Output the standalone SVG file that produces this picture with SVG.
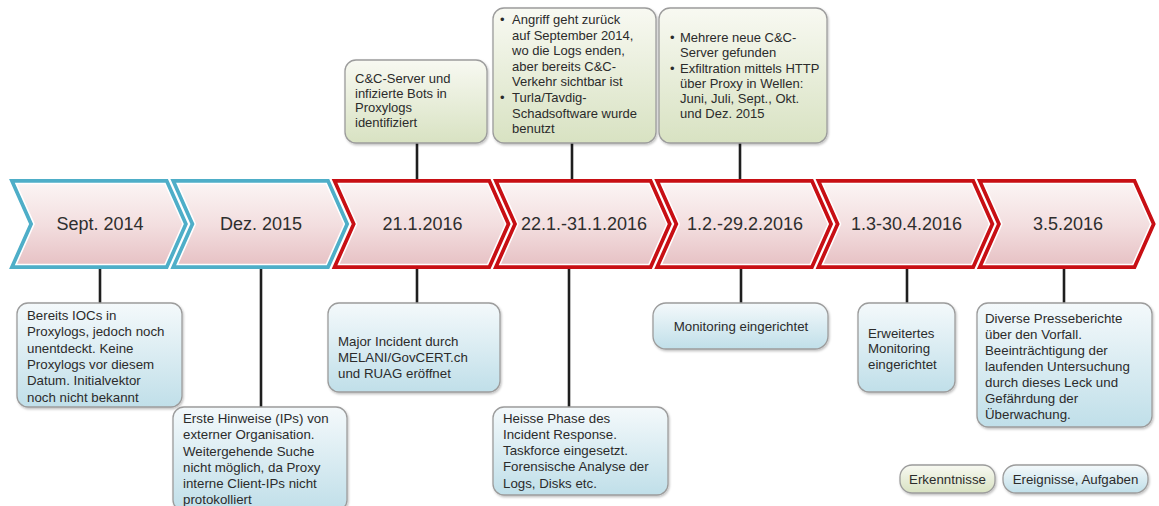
<svg xmlns="http://www.w3.org/2000/svg" xmlns:xlink="http://www.w3.org/1999/xlink" width="1159" height="506" viewBox="0 0 1159 506">
<defs>
<linearGradient id="gPink" x1="0" y1="0" x2="0" y2="1">
<stop offset="0" stop-color="#fbf4f4"/><stop offset="0.5" stop-color="#f3dfe0"/><stop offset="1" stop-color="#e7c2c5"/>
</linearGradient>
<linearGradient id="gGreen" x1="0" y1="0" x2="0" y2="1">
<stop offset="0" stop-color="#f8f9f2"/><stop offset="1" stop-color="#d8e2c2"/>
</linearGradient>
<linearGradient id="gBlue" x1="0" y1="0" x2="0" y2="1">
<stop offset="0" stop-color="#f4f9fb"/><stop offset="1" stop-color="#c0dfe9"/>
</linearGradient>
<filter id="sh" x="-10%" y="-10%" width="125%" height="130%">
<feDropShadow dx="1" dy="1.5" stdDeviation="1.2" flood-color="#000" flood-opacity="0.25"/>
</filter>
<polygon id="chev" points="0,183.5 149,183.5 167,224 149,264.5 0,264.5 18,224"/>
</defs>
<style>
.red{fill:none;stroke:#c80f14;stroke-width:9;stroke-linejoin:miter;stroke-miterlimit:2}
.blu{fill:none;stroke:#4eaec8;stroke-width:9;stroke-linejoin:miter;stroke-miterlimit:2}
.inn{fill:url(#gPink);stroke:#ffffff;stroke-width:1.6;stroke-linejoin:miter;stroke-miterlimit:2}
.ct{font-family:"Liberation Sans",Arial,sans-serif;font-size:18px;fill:#2e2e2e;text-anchor:middle}
.bx{stroke:#9c9c9c;stroke-width:1.3;filter:url(#sh)}
.gr{fill:url(#gGreen)}
.bl{fill:url(#gBlue)}
.t{font-family:"Liberation Sans",Arial,sans-serif;font-size:13.3px;fill:#2b2b2b}
.ts{font-family:"Liberation Sans",Arial,sans-serif;font-size:13px;fill:#2b2b2b}
.mid{text-anchor:middle}
.ln{stroke:#1e1e1e;stroke-width:2.6;fill:none}
</style>
<rect width="1159" height="506" fill="#ffffff"/>

<g id="connectors">
<line class="ln" x1="417" y1="143" x2="417" y2="180"/>
<line class="ln" x1="572" y1="143" x2="572" y2="180"/>
<line class="ln" x1="740" y1="143" x2="740" y2="180"/>
<line class="ln" x1="100" y1="268" x2="100" y2="303"/>
<line class="ln" x1="261" y1="268" x2="261" y2="407"/>
<line class="ln" x1="417" y1="268" x2="417" y2="303"/>
<line class="ln" x1="569" y1="268" x2="569" y2="407"/>
<line class="ln" x1="741" y1="268" x2="741" y2="303"/>
<line class="ln" x1="907" y1="268" x2="907" y2="303"/>
<line class="ln" x1="1064" y1="268" x2="1064" y2="303"/>
</g>

<g id="chevron-1">
<use xlink:href="#chev" href="#chev" class="blu" transform="translate(16,0)"/>
<use xlink:href="#chev" href="#chev" class="inn" transform="translate(16,0)"/>
<text class="ct" x="100" y="230">Sept. 2014</text>
</g>
<g id="chevron-2">
<use xlink:href="#chev" href="#chev" class="blu" transform="translate(177.3,0)"/>
<use xlink:href="#chev" href="#chev" class="inn" transform="translate(177.3,0)"/>
<text class="ct" x="261" y="230">Dez. 2015</text>
</g>
<g id="chevron-3">
<use xlink:href="#chev" href="#chev" class="red" transform="translate(338.6,0)"/>
<use xlink:href="#chev" href="#chev" class="inn" transform="translate(338.6,0)"/>
<text class="ct" x="422.5" y="230">21.1.2016</text>
</g>
<g id="chevron-4">
<use xlink:href="#chev" href="#chev" class="red" transform="translate(499.9,0)"/>
<use xlink:href="#chev" href="#chev" class="inn" transform="translate(499.9,0)"/>
<text class="ct" x="584" y="230">22.1.-31.1.2016</text>
</g>
<g id="chevron-5">
<use xlink:href="#chev" href="#chev" class="red" transform="translate(661.2,0)"/>
<use xlink:href="#chev" href="#chev" class="inn" transform="translate(661.2,0)"/>
<text class="ct" x="745" y="230">1.2.-29.2.2016</text>
</g>
<g id="chevron-6">
<use xlink:href="#chev" href="#chev" class="red" transform="translate(822.5,0)"/>
<use xlink:href="#chev" href="#chev" class="inn" transform="translate(822.5,0)"/>
<text class="ct" x="906.5" y="230">1.3-30.4.2016</text>
</g>
<g id="chevron-7">
<use xlink:href="#chev" href="#chev" class="red" transform="translate(983.8,0)"/>
<use xlink:href="#chev" href="#chev" class="inn" transform="translate(983.8,0)"/>
<text class="ct" x="1068" y="230">3.5.2016</text>
</g>

<g id="finding-1">
<rect class="bx gr" x="345" y="60" width="142" height="83" rx="11"/>
<text class="ts" x="355" y="83">C&amp;C-Server und</text>
<text class="ts" x="355" y="97.5">infizierte Bots in</text>
<text class="ts" x="355" y="112">Proxylogs</text>
<text class="ts" x="355" y="126.5">identifiziert</text>
</g>
<g id="finding-2">
<rect class="bx gr" x="493" y="8" width="163" height="135" rx="11"/>
<text class="ts" x="500" y="24">•</text><text class="ts" x="512" y="24">Angriff geht zurück</text>
<text class="ts" x="512" y="39.6">auf September 2014,</text>
<text class="ts" x="512" y="55.2">wo die Logs enden,</text>
<text class="ts" x="512" y="70.8">aber bereits C&amp;C-</text>
<text class="ts" x="512" y="86.4">Verkehr sichtbar ist</text>
<text class="ts" x="500" y="102">•</text><text class="ts" x="512" y="102">Turla/Tavdig-</text>
<text class="ts" x="512" y="117.6">Schadsoftware wurde</text>
<text class="ts" x="512" y="133.2">benutzt</text>
</g>
<g id="finding-3">
<rect class="bx gr" x="659" y="8" width="168" height="135" rx="11"/>
<text class="ts" x="670" y="42">•</text><text class="ts" x="680" y="42">Mehrere neue C&amp;C-</text>
<text class="ts" x="680" y="57">Server gefunden</text>
<text class="ts" x="670" y="72.5">•</text><text class="ts" x="680" y="72.5">Exfiltration mittels HTTP</text>
<text class="ts" x="680" y="87.5">über Proxy in Wellen:</text>
<text class="ts" x="680" y="102.5">Juni, Juli, Sept., Okt.</text>
<text class="ts" x="680" y="117.5">und Dez. 2015</text>
</g>

<g id="event-1">
<rect class="bx bl" x="17" y="303" width="165" height="104" rx="11"/>
<text class="t" x="27" y="320">Bereits IOCs in</text>
<text class="t" x="27" y="336.3">Proxylogs, jedoch noch</text>
<text class="t" x="27" y="352.6">unentdeckt. Keine</text>
<text class="t" x="27" y="368.9">Proxylogs vor diesem</text>
<text class="t" x="27" y="385.2">Datum. Initialvektor</text>
<text class="t" x="27" y="401.5">noch nicht bekannt</text>
</g>
<g id="event-2">
<rect class="bx bl" x="173" y="407" width="174" height="104" rx="11"/>
<text class="t" x="183" y="423">Erste Hinweise (IPs) von</text>
<text class="t" x="183" y="439.3">externer Organisation.</text>
<text class="t" x="183" y="455.6">Weitergehende Suche</text>
<text class="t" x="183" y="471.9">nicht möglich, da Proxy</text>
<text class="t" x="183" y="488.2">interne Client-IPs nicht</text>
<text class="t" x="183" y="504">protokolliert</text>
</g>
<g id="event-3">
<rect class="bx bl" x="328" y="303" width="172" height="89" rx="11"/>
<text class="t" x="338" y="346">Major Incident durch</text>
<text class="t" x="338" y="362">MELANI/GovCERT.ch</text>
<text class="t" x="338" y="378">und RUAG eröffnet</text>
</g>
<g id="event-4">
<rect class="bx bl" x="493" y="407" width="175" height="88" rx="11"/>
<text class="t" x="503" y="423">Heisse Phase des</text>
<text class="t" x="503" y="439">Incident Response.</text>
<text class="t" x="503" y="455">Taskforce eingesetzt.</text>
<text class="t" x="503" y="471">Forensische Analyse der</text>
<text class="t" x="503" y="487.5">Logs, Disks etc.</text>
</g>
<g id="event-5">
<rect class="bx bl" x="653" y="303" width="175" height="46" rx="13"/>
<text class="t mid" x="741" y="331">Monitoring eingerichtet</text>
</g>
<g id="event-6">
<rect class="bx bl" x="858" y="303" width="97" height="89" rx="11"/>
<text class="t" x="868" y="338">Erweitertes</text>
<text class="t" x="868" y="353">Monitoring</text>
<text class="t" x="868" y="368.5">eingerichtet</text>
</g>
<g id="event-7">
<rect class="bx bl" x="977" y="303" width="175" height="124" rx="11"/>
<text class="t" x="985" y="322.5">Diverse Presseberichte</text>
<text class="t" x="985" y="338.5">über den Vorfall.</text>
<text class="t" x="985" y="354.5">Beeinträchtigung der</text>
<text class="t" x="985" y="370.5">laufenden Untersuchung</text>
<text class="t" x="985" y="386.5">durch dieses Leck und</text>
<text class="t" x="985" y="402.5">Gefährdung der</text>
<text class="t" x="985" y="418.5">Überwachung.</text>
</g>

<g id="legend-findings">
<rect class="bx gr" x="900" y="465" width="95" height="28" rx="12"/>
<text class="t mid" x="947.5" y="484">Erkenntnisse</text>
</g>
<g id="legend-events">
<rect class="bx bl" x="1003" y="465" width="145" height="28" rx="13"/>
<text class="t mid" x="1075.5" y="484">Ereignisse, Aufgaben</text>
</g>
</svg>
